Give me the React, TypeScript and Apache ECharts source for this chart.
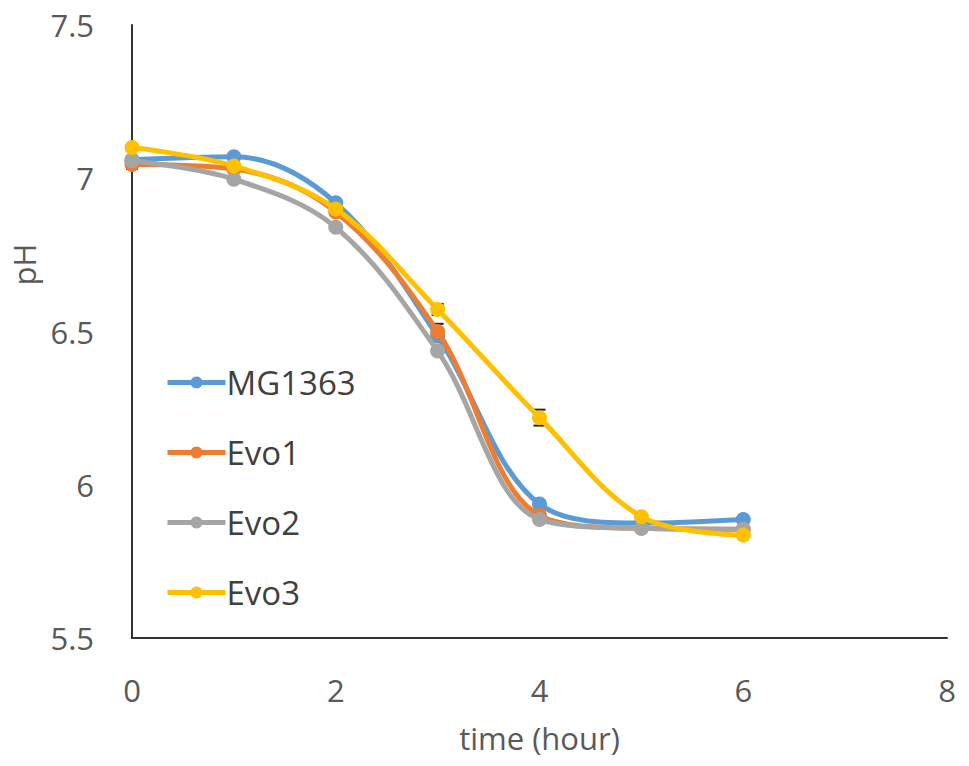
import React, { useEffect, useRef } from "react";
import * as echarts from "echarts";

const hours = [0, 1, 2, 3, 4, 5, 6];
const mg1363 = [7.06, 7.07, 6.92, 6.485, 5.937, 5.875, 5.887];
const evo1 = [7.045, 7.03, 6.89, 6.5, 5.9, 5.858, 5.855];
const evo2 = [7.057, 6.997, 6.84, 6.436, 5.887, 5.858, 5.855];
const evo3 = [7.1, 7.04, 6.9, 6.572, 6.219, 5.896, 5.836];
// error bars: [hour, value, +/- error]
const evo1Err = [[0, 7.045, 0.015], [3, 6.5, 0.025]];
const evo3Err = [[3, 6.572, 0.018], [4, 6.219, 0.026]];

const seriesNames = ["MG1363", "Evo1", "Evo2", "Evo3"];
const seriesValues = [mg1363, evo1, evo2, evo3];
const colors = ["#5B9BD5", "#ED7D31", "#A5A5A5", "#FFC000"];

const FONT = "'Open Sans', sans-serif";

export default function App() {
  const ref = useRef<HTMLDivElement>(null);
  useEffect(() => {
    if (!ref.current) return;
    const chart = echarts.init(ref.current, null, { renderer: "svg" });
    const lineSeries = seriesNames.map((name, i) => ({
      name,
      type: "line",
      smooth: 0.35,
      data: hours.map((h, j) => [h, seriesValues[i][j]]),
      symbol: "circle",
      symbolSize: 15,
      lineStyle: { width: 5, color: colors[i] },
      itemStyle: { color: colors[i] },
      z: 3 + i,
    }));
    const errSeries = [evo1Err, evo3Err].map((d) => ({
      type: "custom",
      data: d,
      z: 2,
      silent: true,
      renderItem: (params: any, api: any) => {
        const x = api.value(0);
        const y = api.value(1);
        const e = api.value(2);
        const hi = api.coord([x, y + e]);
        const lo = api.coord([x, y - e]);
        const w = 6;
        const style = { stroke: "#222", lineWidth: 2 };
        return {
          type: "group",
          children: [
            { type: "line", shape: { x1: hi[0], y1: hi[1], x2: lo[0], y2: lo[1] }, style },
            { type: "line", shape: { x1: hi[0] - w, y1: hi[1], x2: hi[0] + w, y2: hi[1] }, style },
            { type: "line", shape: { x1: lo[0] - w, y1: lo[1], x2: lo[0] + w, y2: lo[1] }, style },
          ],
        };
      },
    }));
    chart.setOption({
      animation: false,
      backgroundColor: "#fff",
      textStyle: { fontFamily: FONT },
      grid: { left: 132, top: 25, right: 22, bottom: 128, containLabel: false },
      legend: {
        orient: "vertical",
        left: 160,
        top: 361,
        itemWidth: 58,
        itemHeight: 15,
        itemGap: 37,
        data: seriesNames,
        lineStyle: { width: 5 },
        textStyle: { fontFamily: FONT, fontSize: 33, color: "#404040", padding: [0, 0, 0, -4] },
      },
      xAxis: {
        type: "value",
        min: 0,
        max: 8,
        interval: 2,
        name: "time (hour)",
        nameLocation: "middle",
        nameGap: 84,
        nameTextStyle: { fontFamily: FONT, fontSize: 31, color: "#595959" },
        axisLine: { show: true, lineStyle: { color: "#333", width: 2 } },
        axisTick: { show: false },
        splitLine: { show: false },
        axisLabel: { fontFamily: FONT, fontSize: 31, color: "#595959", margin: 36 },
      },
      yAxis: {
        type: "value",
        min: 5.5,
        max: 7.5,
        interval: 0.5,
        name: "pH",
        nameLocation: "middle",
        nameGap: 88,
        nameTextStyle: { fontFamily: FONT, fontSize: 31, color: "#595959", padding: [0, 0, 0, 134] },
        axisLine: { show: true, lineStyle: { color: "#333", width: 2 } },
        axisTick: { show: false },
        splitLine: { show: false },
        axisLabel: { fontFamily: FONT, fontSize: 31, color: "#595959", margin: 38 },
      },
      series: [...errSeries, ...lineSeries],
    });
    return () => chart.dispose();
  }, []);
  return (
    <div
      ref={ref}
      style={{ position: "absolute", left: 0, top: 0, width: 969, height: 766 }}
    />
  );
}
